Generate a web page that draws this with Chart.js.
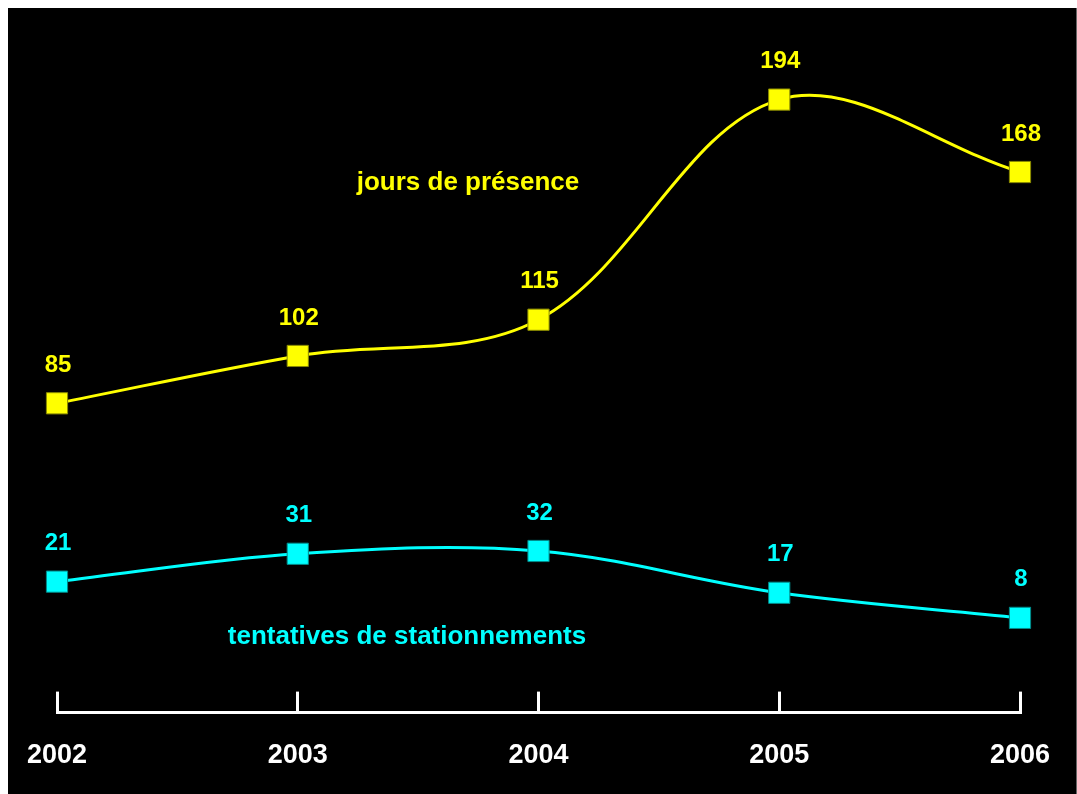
<!DOCTYPE html>
<html>
<head>
<meta charset="utf-8">
<script src="https://cdn.jsdelivr.net/npm/chart.js@4/dist/chart.umd.min.js"></script>
<style>
  html, body { margin: 0; padding: 0; background: #ffffff; }
  #bg { position: absolute; left: 8px; top: 8px; width: 1068px; height: 786px; background: #000000; border-right: 1px solid #666; }
  #wrap { position: absolute; left: 0; top: 0; width: 1077px; height: 794px; }
</style>
</head>
<body>
<div id="bg"></div>
<div id="wrap"><canvas id="c" width="1077" height="794"></canvas></div>
<script>
const years = ['2002', '2003', '2004', '2005', '2006'];
const joursPresence = [85, 102, 115, 194, 168];
const tentativesStationnements = [21, 31, 32, 17, 8];
const seriesNames = ['jours de présence', 'tentatives de stationnements'];

const FONT = '"Liberation Sans", Arial, Helvetica, sans-serif';
const YELLOW = '#FFFF00';
const CYAN = '#00FFFF';

const labelsPlugin = {
  id: 'valueLabels',
  afterDatasetsDraw(chart) {
    const ctx = chart.ctx;
    ctx.save();
    ctx.font = 'bold 24px ' + FONT;
    ctx.textAlign = 'center';
    ctx.textBaseline = 'middle';
    chart.data.datasets.forEach((ds, i) => {
      const meta = chart.getDatasetMeta(i);
      ctx.fillStyle = ds.borderColor;
      meta.data.forEach((pt, j) => {
        ctx.fillText(String(ds.data[j]), pt.x + 1, pt.y - 38);
      });
    });
    // series names
    ctx.font = 'bold 26px ' + FONT;
    ctx.fillStyle = YELLOW;
    ctx.fillText(seriesNames[0], 468, 183);
    ctx.fillStyle = CYAN;
    ctx.fillText(seriesNames[1], 407, 637);
    ctx.restore();
  }
};

new Chart(document.getElementById('c'), {
  type: 'line',
  data: {
    labels: years,
    datasets: [
      {
        label: seriesNames[0],
        data: joursPresence,
        borderColor: YELLOW,
        backgroundColor: YELLOW,
        pointBackgroundColor: YELLOW,
        pointBorderColor: '#8a8a00',
        pointBorderWidth: 1,
        borderWidth: 3,
        pointStyle: 'rect',
        pointRadius: 15,
        tension: 0.35,
        clip: false
      },
      {
        label: seriesNames[1],
        data: tentativesStationnements,
        borderColor: CYAN,
        backgroundColor: CYAN,
        pointBackgroundColor: CYAN,
        pointBorderColor: '#008a8a',
        pointBorderWidth: 1,
        borderWidth: 3,
        pointStyle: 'rect',
        pointRadius: 15,
        tension: 0.35,
        clip: false
      }
    ]
  },
  options: {
    responsive: false,
    animation: false,
    devicePixelRatio: 1,
    layout: { padding: { left: 57, right: 57, top: 55, bottom: -26 } },
    plugins: { legend: { display: false }, tooltip: { enabled: false } },
    scales: {
      x: {
        type: 'category',
        offset: false,
        afterFit(scale) { scale.paddingLeft = 0; scale.paddingRight = 0; },
        border: { display: true, color: '#ffffff', width: 3 },
        grid: { display: true, drawOnChartArea: false, drawTicks: true, tickLength: -21, color: '#ffffff', lineWidth: 3 },
        ticks: {
          color: '#ffffff',
          padding: 48,
          maxRotation: 0,
          autoSkip: false,
          font: { family: FONT, size: 27, weight: 'bold' }
        }
      },
      y: {
        display: false,
        min: -26,
        max: 210
      }
    }
  },
  plugins: [labelsPlugin]
});
</script>
</body>
</html>
